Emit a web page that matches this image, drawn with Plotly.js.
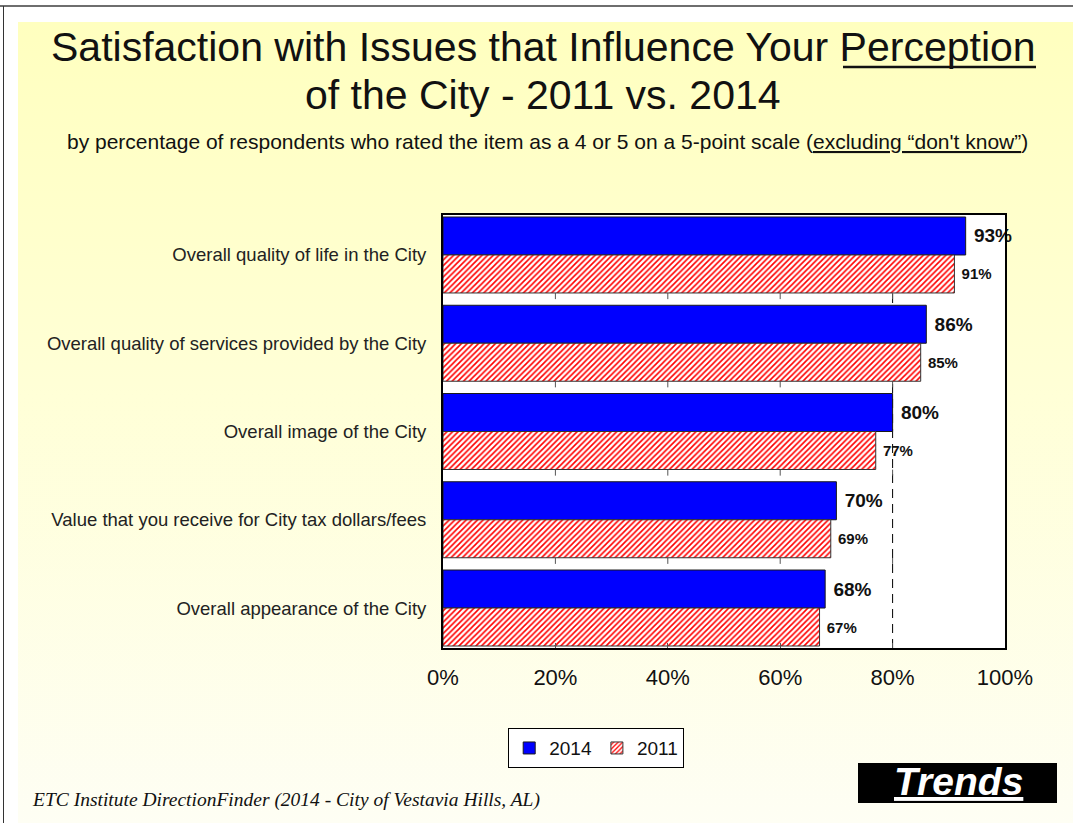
<!DOCTYPE html>
<html>
<head>
<meta charset="utf-8">
<script src="https://cdn.plot.ly/plotly-3.0.1.min.js"></script>
<style>
  html, body { margin: 0; padding: 0; background: #ffffff; }
  #wrap { position: relative; width: 1073px; height: 823px; overflow: hidden; background: #ffffff; }
  #topline { position: absolute; left: 0; top: 5px; width: 1073px; height: 2px; background: #6e6e6e; }
  #leftline { position: absolute; left: 3px; top: 6px; width: 1px; height: 817px; background: #333333; }
  #grad { position: absolute; left: 18px; top: 22px; right: 0; bottom: 0;
          background: linear-gradient(to bottom, #ffffbf 0%, #ffffd6 45%, #fefef4 100%); }
  #chart { position: absolute; left: 0; top: 0; width: 1073px; height: 823px; }
</style>
</head>
<body>
<div id="wrap">
  <div id="topline"></div>
  <div id="leftline"></div>
  <div id="grad"></div>
  <div id="chart"></div>
</div>
<script>
const categories = [
  "Overall quality of life in the City",
  "Overall quality of services provided by the City",
  "Overall image of the City",
  "Value that you receive for City tax dollars/fees",
  "Overall appearance of the City"
];
const values2014 = [93, 86, 80, 70, 68];
const values2011 = [91, 85, 77, 69, 67];
const seriesNames = ["2014", "2011"];
const xTickValues = [0, 20, 40, 60, 80, 100];
const xTickLabels = ["0%", "20%", "40%", "60%", "80%", "100%"];

const trace2014 = {
  type: "bar", orientation: "h", name: seriesNames[0],
  y: categories, x: values2014,
  marker: { color: "#0000ff", line: { color: "#1a1a1a", width: 1 } },
  text: values2014.map(v => "\u00a0" + v + "%"),
  textposition: "outside",
  textfont: { family: "Arial, Liberation Sans, sans-serif", size: 19, color: "#111111", weight: "bold" },
  cliponaxis: false,
  hoverinfo: "skip"
};
const trace2011 = {
  type: "bar", orientation: "h", name: seriesNames[1],
  y: categories, x: values2011,
  marker: { color: "#ffffff", line: { color: "#333333", width: 1 },
            pattern: { shape: "/", fgcolor: "#ff0000", bgcolor: "#ffffff", size: 4, solidity: 0.4, fillmode: "replace" } },
  text: values2011.map(v => "\u00a0" + v + "%"),
  textposition: "outside",
  textfont: { family: "Arial, Liberation Sans, sans-serif", size: 15, color: "#111111", weight: "bold" },
  cliponaxis: false,
  hoverinfo: "skip"
};

// short ticks in the gaps between category groups
const gapTicks = [];
[0.5, 1.5, 2.5, 3.5].forEach(yb => {
  [20, 40, 60, 80].forEach(xv => {
    gapTicks.push({ type: "line", xref: "x", yref: "y", x0: xv, x1: xv,
      ysizemode: "pixel", yanchor: yb, y0: 0, y1: 6,
      line: { color: "#555555", width: 1 }, layer: "below" });
  });
});

const px = v => (v - 443) / 562;   // page x -> paper fraction
const py = v => (648 - v) / 433;   // page y -> paper fraction

const layout = {
  width: 1073, height: 823,
  paper_bgcolor: "rgba(0,0,0,0)",
  plot_bgcolor: "#ffffff",
  margin: { l: 443, r: 68, t: 215, b: 175, pad: 0 },
  barmode: "group", bargap: 0.139, bargroupgap: 0,
  showlegend: true,
  legend: {
    orientation: "h", x: 0.116, xanchor: "left", y: -0.185, yanchor: "top",
    bgcolor: "#ffffff", bordercolor: "#000000", borderwidth: 1,
    font: { family: "Arial, Liberation Sans, sans-serif", size: 19, color: "#111111" },
    itemwidth: 30, tracegroupgap: 0, itemclick: false
  },
  font: { family: "Arial, Liberation Sans, sans-serif", color: "#111111" },
  xaxis: {
    range: [0, 100], tickvals: xTickValues, ticktext: xTickLabels,
    showgrid: false, zeroline: false,
    showline: true, linecolor: "#000000", linewidth: 2, mirror: true,
    ticks: "inside", ticklen: 5, tickcolor: "#555555", tickwidth: 1,
    tickfont: { size: 22, color: "#111111" }, ticklabelstandoff: 9
  },
  yaxis: {
    range: [4.453, -0.453], type: "category",
    showgrid: false, zeroline: false,
    showline: true, linecolor: "#000000", linewidth: 2, mirror: true,
    ticks: "", tickfont: { size: 18.5, color: "#222222" }, ticklabelstandoff: 11
  },
  shapes: [
    { type: "line", xref: "x", yref: "paper", x0: 80, x1: 80, y0: 0, y1: 1,
      line: { color: "#000000", width: 1, dash: "9px,6px" }, layer: "below" },
    ...gapTicks,
    { type: "rect", xref: "paper", yref: "paper",
      x0: px(858), x1: px(1057), y0: py(803), y1: py(763),
      fillcolor: "#000000", line: { width: 0 } },
    // underline of "Perception" in the title
    { type: "line", xref: "paper", yref: "paper",
      x0: px(843), x1: px(1036), y0: py(67), y1: py(67),
      line: { color: "#111111", width: 2.5 } }
  ],
  annotations: [
    { xref: "paper", yref: "paper", x: px(543), y: py(47),
      text: "Satisfaction with Issues that Influence Your Perception", showarrow: false,
      xanchor: "center", yanchor: "middle",
      font: { family: "Arial, Liberation Sans, sans-serif", size: 41, color: "#111111" } },
    { xref: "paper", yref: "paper", x: px(543), y: py(95),
      text: "of the City - 2011 vs. 2014", showarrow: false,
      xanchor: "center", yanchor: "middle",
      font: { family: "Arial, Liberation Sans, sans-serif", size: 41, color: "#111111" } },
    { xref: "paper", yref: "paper", x: px(547), y: py(141),
      text: "by percentage of respondents who rated the item as a 4 or 5 on a 5-point scale (<u>excluding “don't know”</u>)",
      showarrow: false, xanchor: "center", yanchor: "middle",
      font: { family: "Arial, Liberation Sans, sans-serif", size: 21, color: "#111111" } },
    { xref: "paper", yref: "paper", x: px(30), y: py(800),
      text: "<i>ETC Institute DirectionFinder (2014 - City of Vestavia Hills, AL)</i>",
      showarrow: false, xanchor: "left", yanchor: "middle",
      font: { family: "Liberation Serif, Times New Roman, serif", size: 19.5, color: "#111111" } },
    { xref: "paper", yref: "paper", x: px(958), y: py(781),
      text: "<b><i><u>Trends</u></i></b>",
      showarrow: false, xanchor: "center", yanchor: "middle",
      font: { family: "Arial, Liberation Sans, sans-serif", size: 39, color: "#ffffff" } }
  ]
};

Plotly.newPlot("chart", [trace2014, trace2011], layout, { displayModeBar: false, staticPlot: true });
</script>
</body>
</html>
